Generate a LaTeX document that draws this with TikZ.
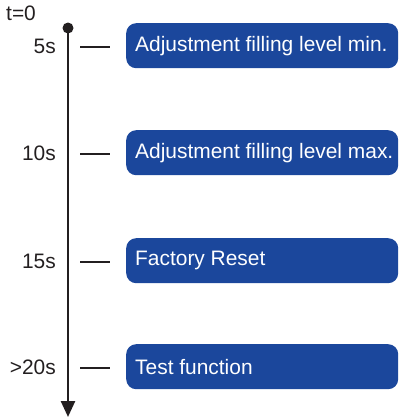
\documentclass[tikz,border=0pt]{standalone}
\usepackage{fontspec}
\setmainfont{Liberation Sans}
\usetikzlibrary{arrows.meta}
\definecolor{boxblue}{HTML}{1B479C}
\definecolor{ink}{HTML}{231F20}
\begin{document}
\begin{tikzpicture}[x=1bp,y=-1bp,
  stepbox/.style={fill=boxblue, rounded corners=10bp, anchor=north west, minimum width=272bp, minimum height=45bp, inner sep=0pt},
  boxtext/.style={text=white, font=\fontsize{21}{25}\selectfont, anchor=west, inner sep=0pt},
  tlabel/.style={anchor=east, text=ink, font=\fontsize{21}{25}\selectfont, inner sep=0pt},
  tick/.style={draw=ink, line width=2bp}]
\useasboundingbox (0,0) rectangle (400,419);
\coordinate (top) at (68,28);
\coordinate (bot) at (68,417);
\fill[ink] (top) circle (5.5bp);
\draw[ink, line width=2.5bp, -{Triangle[length=16bp,width=14bp]}] (top) -- (bot);
\node[text=ink, font=\fontsize{21}{25}\selectfont, inner sep=0pt, anchor=west] (t0) at (6,13) {t=0};
\foreach \y/\lab/\txt/\n in {46/5s/Adjustment filling level min./a, 153/10s/Adjustment filling level max./b, 261/15s/Factory Reset/c, 367/>20s/Test function/d}{
  \node[tlabel] (l\n) at (56,\y) {\lab};
  \coordinate (ts\n) at (80,\y+1);
  \coordinate (te\n) at (110,\y+1);
  \draw[tick] (ts\n) -- (te\n);
  \node[stepbox] (b\n) at (126,\y-23) {};
  \node[boxtext] (x\n) at ([xshift=9bp]b\n.west) {\txt};
}
\end{tikzpicture}
\end{document}
